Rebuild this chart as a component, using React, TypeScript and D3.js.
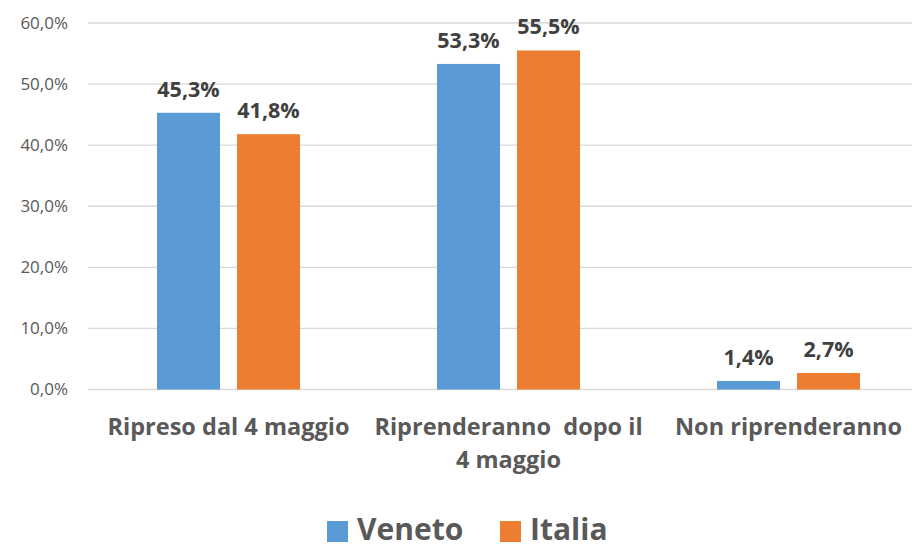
import { useEffect, useRef } from "react";
import * as d3 from "d3";

const categories = ["Ripreso dal 4 maggio", "Riprenderanno  dopo il|4 maggio", "Non riprenderanno"];
const series = ["Veneto", "Italia"];
const veneto = [45.3, 53.3, 1.4];
const italia = [41.8, 55.5, 2.7];
const yTicks = [0, 10, 20, 30, 40, 50, 60];
const colors = ["#5b9bd5", "#ed7d31"];

const FONT = "'Open Sans', Lato, sans-serif";

const App = () => {
  const svgRef = useRef<SVGSVGElement>(null);

  useEffect(() => {
    const width = 912;
    const height = 548;
    const svg = d3.select(svgRef.current);
    svg.selectAll("*").remove();
    svg.attr("width", width).attr("height", height);

    // plot area
    const left = 88;
    const x = d3.scaleBand().domain(categories).range([88.5, 928.5]).padding(0);
    const xs = d3
      .scaleBand()
      .domain(series)
      .range([0, x.bandwidth()])
      .paddingInner(0.2125)
      .paddingOuter(0.85625);
    const y = d3.scaleLinear().domain([0, 60]).range([389.5, 23]);

    // gridlines
    svg
      .append("g")
      .selectAll("line")
      .data(yTicks)
      .enter()
      .append("line")
      .attr("x1", left)
      .attr("x2", width)
      .attr("y1", (d) => y(d))
      .attr("y2", (d) => y(d))
      .attr("stroke", "#d9d9d9")
      .attr("stroke-width", 1.3);

    // y labels
    svg
      .append("g")
      .selectAll("text")
      .data(yTicks)
      .enter()
      .append("text")
      .attr("x", 68)
      .attr("y", (d) => y(d))
      .attr("dy", "0.35em")
      .attr("text-anchor", "end")
      .attr("font-family", FONT)
      .attr("font-size", 17)
      .attr("fill", "#595959")
      .text((d) => d.toFixed(1).replace(".", ",") + "%");

    const rows = categories.map((c, i) => ({ c, vals: [veneto[i], italia[i]] }));

    // bars
    const groups = svg
      .append("g")
      .selectAll("g")
      .data(rows)
      .enter()
      .append("g")
      .attr("transform", (d) => `translate(${x(d.c)},0)`);

    groups
      .selectAll("rect")
      .data((d) => d.vals.map((v, j) => ({ s: series[j], v, j })))
      .enter()
      .append("rect")
      .attr("x", (d) => xs(d.s)!)
      .attr("width", xs.bandwidth())
      .attr("y", (d) => y(d.v))
      .attr("height", (d) => y(0) - y(d.v))
      .attr("fill", (d) => colors[d.j]);

    // value labels
    groups
      .selectAll("text")
      .data((d) => d.vals.map((v, j) => ({ s: series[j], v, j })))
      .enter()
      .append("text")
      .attr("x", (d) => xs(d.s)! + xs.bandwidth() / 2)
      .attr("y", (d) => y(d.v) - 16)
      .attr("text-anchor", "middle")
      .attr("font-family", FONT)
      .attr("font-weight", "bold")
      .attr("font-size", 21.5)
      .attr("fill", "#404040")
      .text((d) => d.v.toFixed(1).replace(".", ",") + "%");

    // category labels
    const catText = svg
      .append("g")
      .selectAll("text")
      .data(categories)
      .enter()
      .append("text")
      .attr("x", (d) => x(d)! + x.bandwidth() / 2)
      .attr("y", 435)
      .attr("text-anchor", "middle")
      .attr("font-family", FONT)
      .attr("font-weight", "bold")
      .attr("font-size", 23.5)
      .attr("fill", "#595959")
      .style("white-space", "pre");
    catText
      .selectAll("tspan")
      .data((d) => d.split("|"))
      .enter()
      .append("tspan")
      .attr("x", function () {
        return (this.parentNode as SVGTextElement).getAttribute("x");
      })
      .attr("dy", (_d, i) => (i === 0 ? 0 : 33))
      .text((d) => d);

    // legend
    const legend = svg.append("g");
    const legendX = [327, 500];
    series.forEach((s, i) => {
      legend
        .append("rect")
        .attr("x", legendX[i])
        .attr("y", 521)
        .attr("width", 21)
        .attr("height", 21)
        .attr("fill", colors[i]);
      legend
        .append("text")
        .attr("x", legendX[i] + 30)
        .attr("y", 540)
        .attr("font-family", FONT)
        .attr("font-weight", "bold")
        .attr("font-size", 30)
        .attr("fill", "#595959")
        .text(s);
    });
  }, []);

  return <svg ref={svgRef} style={{ position: "absolute", left: 0, top: 0 }}></svg>;
};

export default App;
